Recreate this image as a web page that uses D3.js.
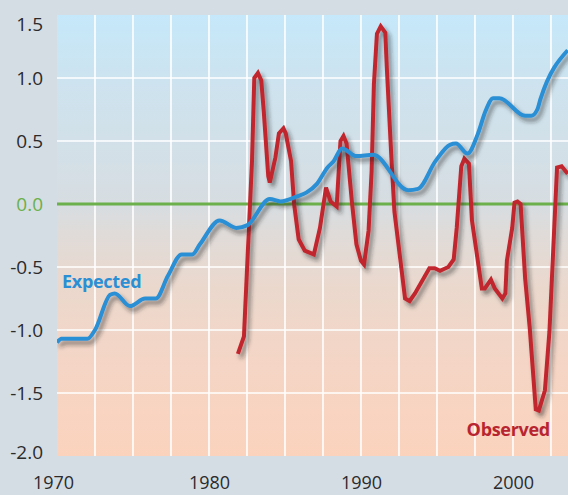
<!DOCTYPE html>
<html><head><meta charset="utf-8">
<script src="https://cdn.jsdelivr.net/npm/d3@7"></script>
<style>
html,body{margin:0;padding:0;background:#d5dde4;}
svg{display:block;}
text{font-family:"Open Sans",sans-serif;}
</style></head>
<body>
<script>
// ---- data ----
const expectedYears = [1970.0,1970.3,1972.0,1972.5,1973.5,1973.8,1974.8,1975.8,1976.5,1977.3,1978.2,1978.9,1979.4,1980.7,1981.8,1982.5,1984.0,1984.7,1985.8,1986.4,1987.1,1987.8,1988.2,1988.75,1989.7,1990.8,1993.1,1993.75,1994.9,1995.85,1996.25,1997.0,1997.7,1998.2,1998.7,1999.1,2000.8,2001.2,2001.6,2001.8,2003.6];
const expectedValues = [-1.10,-1.07,-1.07,-1.00,-0.72,-0.71,-0.81,-0.75,-0.75,-0.57,-0.40,-0.40,-0.32,-0.13,-0.19,-0.17,0.04,0.02,0.06,0.09,0.16,0.29,0.34,0.44,0.38,0.39,0.11,0.12,0.34,0.47,0.48,0.40,0.56,0.74,0.84,0.84,0.70,0.70,0.75,0.83,1.22];

const observedYears = [1981.9,1982.3,1982.83,1982.98,1983.22,1983.44,1983.6,1983.9,1984.0,1984.37,1984.6,1984.9,1985.05,1985.4,1985.6,1985.9,1986.3,1986.9,1987.3,1987.7,1988.0,1988.4,1988.65,1988.85,1989.05,1989.4,1989.7,1990.0,1990.2,1990.5,1990.7,1990.85,1991.05,1991.3,1991.6,1991.7,1992.0,1992.2,1992.9,1993.2,1993.55,1994.5,1994.85,1995.2,1995.75,1996.1,1996.3,1996.6,1996.8,1997.1,1997.3,1997.95,1998.15,1998.55,1998.8,1999.3,1999.5,1999.6,1999.95,2000.1,2000.3,2000.5,2000.8,2001.1,2001.5,2001.7,2002.1,2002.4,2002.9,2003.2,2003.6];
const observedValues = [-1.19,-1.05,0.34,1.00,1.04,0.98,0.74,0.22,0.17,0.37,0.56,0.60,0.56,0.34,0.0,-0.28,-0.37,-0.40,-0.19,0.13,0.02,-0.02,0.50,0.54,0.48,0.02,-0.32,-0.45,-0.48,-0.21,0.26,0.95,1.35,1.41,1.36,1.08,0.37,-0.06,-0.75,-0.77,-0.71,-0.51,-0.51,-0.53,-0.50,-0.44,-0.19,0.30,0.36,0.32,-0.13,-0.67,-0.67,-0.60,-0.67,-0.75,-0.71,-0.45,-0.19,0.01,0.02,0.0,-0.59,-0.98,-1.63,-1.64,-1.48,-1.01,0.29,0.30,0.24];

const xTicks = [1970, 1980, 1990, 2000];
const xGrid = [1972.5,1975,1977.5,1980,1982.5,1985,1987.5,1990,1992.5,1995,1997.5,2000,2002.5];
const yTicks = [-2.0,-1.5,-1.0,-0.5,0.0,0.5,1.0,1.5];
const yGrid = [-1.5,-1.0,-0.5,0.5,1.0];
const seriesLabels = [
  {text:"Expected", year:1970.33, value:-0.665, color:"#2a8fd4"},
  {text:"Observed", year:1996.95, value:-1.845, color:"#b8242f"}
];

// ---- layout ----
const W = 568, H = 495;
const m = {left:57, top:15, right:0, bottom:39};
const pw = W - m.left - m.right, ph = H - m.top - m.bottom;

const svg = d3.select("body").append("svg").attr("width", W).attr("height", H);
const defs = svg.append("defs");

const grad = defs.append("linearGradient").attr("id","bg").attr("x1",0).attr("y1",0).attr("x2",0).attr("y2",1);
[[0,"#c5e8fa"],[0.15,"#cde3ef"],[0.3,"#d2e0e8"],[0.43,"#d7dde1"],[0.5,"#e0dbd8"],[0.62,"#ebd8cd"],[0.8,"#f5d5c5"],[1,"#fbd3bd"]]
  .forEach(([o,c]) => grad.append("stop").attr("offset",o).attr("stop-color",c));

const sh = defs.append("filter").attr("id","shadow").attr("x","-10%").attr("y","-10%").attr("width","130%").attr("height","130%");
sh.append("feDropShadow").attr("dx",3).attr("dy",4).attr("stdDeviation",2).attr("flood-color","#1a1a1a").attr("flood-opacity",0.5);

defs.append("clipPath").attr("id","clip").append("rect").attr("width",pw).attr("height",ph);

const x = d3.scaleLinear().domain([1970, 2003.62]).range([0, pw]);
const y = d3.scaleLinear().domain([-2.0, 1.5]).range([ph, 0]);

const g = svg.append("g").attr("transform",`translate(${m.left},${m.top})`);
g.append("rect").attr("width",pw).attr("height",ph).attr("fill","url(#bg)");

// grid
g.selectAll(".vg").data(xGrid).join("line")
  .attr("x1",d=>x(d)).attr("x2",d=>x(d)).attr("y1",0).attr("y2",ph)
  .attr("stroke","#fff").attr("stroke-width",1.6);
g.selectAll(".hg").data(yGrid).join("line")
  .attr("x1",0).attr("x2",pw).attr("y1",d=>y(d)).attr("y2",d=>y(d))
  .attr("stroke","#fff").attr("stroke-width",1.6);
g.append("line").attr("x1",0).attr("x2",pw).attr("y1",y(0)).attr("y2",y(0))
  .attr("stroke","#6bb04a").attr("stroke-width",3);

// axes
const yAxis = g.append("g").call(d3.axisLeft(y).tickValues(yTicks).tickSize(0).tickPadding(14).tickFormat(d=>d.toFixed(1)));
yAxis.select(".domain").remove();
yAxis.selectAll("text").attr("font-size",19).attr("fill",d=>d===0?"#6bb04a":"#2b2b2b")
  .attr("font-family","'Open Sans',sans-serif")
  .attr("dy",d=> d===1.5 ? "0.82em" : d===-2.0 ? "0.15em" : "0.32em");

const xAxis = g.append("g").attr("transform",`translate(0,${ph})`)
  .call(d3.axisBottom(x).tickValues(xTicks).tickSize(0).tickPadding(20).tickFormat(d3.format("d")));
xAxis.select(".domain").remove();
xAxis.selectAll("text").attr("font-size",18).attr("fill","#2b2b2b").attr("font-family","'Open Sans',sans-serif")
  .attr("dx",d=>d===1970?-4:0);

// lines
const plot = g.append("g").attr("clip-path","url(#clip)");
const expData = expectedYears.map((d,i)=>[d, expectedValues[i]]);
const obsData = observedYears.map((d,i)=>[d, observedValues[i]]);

plot.append("path").datum(obsData)
  .attr("d", d3.line().x(d=>x(d[0])).y(d=>y(d[1])).curve(d3.curveLinear))
  .attr("fill","none").attr("stroke","#c1272d").attr("stroke-width",4)
  .attr("stroke-linejoin","miter").attr("stroke-miterlimit",3).attr("filter","url(#shadow)");

plot.append("path").datum(expData)
  .attr("d", d3.line().x(d=>x(d[0])).y(d=>y(d[1])).curve(d3.curveMonotoneX))
  .attr("fill","none").attr("stroke","#2a8fd4").attr("stroke-width",4)
  .attr("stroke-linejoin","round").attr("filter","url(#shadow)");

// series labels
g.selectAll(".sl").data(seriesLabels).join("text")
  .attr("x",d=>x(d.year)).attr("y",d=>y(d.value))
  .attr("fill",d=>d.color).attr("font-size",18).attr("font-weight",700)
  .attr("letter-spacing",-0.3)
  .text(d=>d.text);
</script>
</body></html>
